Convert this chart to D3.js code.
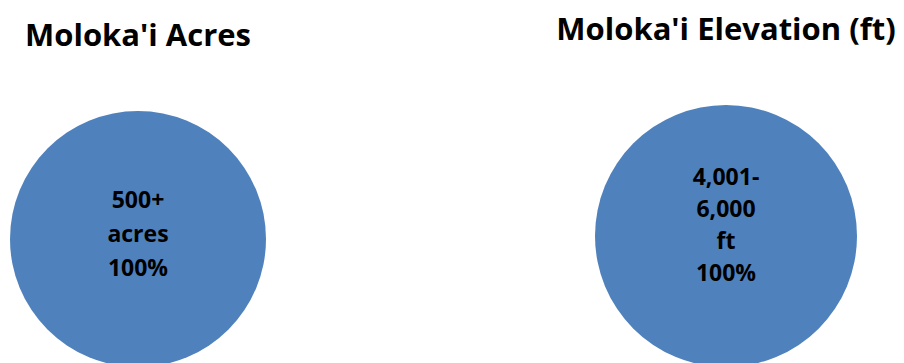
<!DOCTYPE html>
<html>
<head>
<meta charset="utf-8">
<script src="https://cdn.jsdelivr.net/npm/d3@7"></script>
<style>
  html, body { margin: 0; padding: 0; background: #ffffff; }
  svg { display: block; }
  text { font-family: "Open Sans", "Liberation Sans", sans-serif; font-weight: 700; fill: #000; }
</style>
</head>
<body>
<svg id="chart" width="904" height="363"></svg>
<script>
// Moloka'i acreage breakdown
const acresTitle = "Moloka'i Acres";
const acresCategories = [["500+", "acres"]];
const acresValues = [1];

// Moloka'i elevation breakdown
const elevationTitle = "Moloka'i Elevation (ft)";
const elevationCategories = [["4,001-", "6,000", "ft"]];
const elevationValues = [1];

const sliceColor = "#4f81bd";

const svg = d3.select("#chart");
const pct = d3.format(".0%");

function drawPie(cfg) {
  const g = svg.append("g").attr("transform", `translate(${cfg.cx},${cfg.cy})`);

  svg.append("text")
    .attr("x", cfg.cx)
    .attr("y", cfg.titleY)
    .attr("text-anchor", "middle")
    .style("font-size", cfg.titleSize + "px")
    .text(cfg.title);

  const data = cfg.categories.map((c, i) => ({ lines: c, value: cfg.values[i] }));
  const total = d3.sum(data, d => d.value);
  const arcs = d3.pie().sort(null).value(d => d.value)(data);
  const arc = d3.arc().innerRadius(0).outerRadius(cfg.r);

  g.selectAll("path.slice")
    .data(arcs)
    .join("path")
    .attr("class", "slice")
    .attr("d", arc)
    .attr("fill", sliceColor);

  const label = g.selectAll("text.label")
    .data(arcs)
    .join("text")
    .attr("class", "label")
    .attr("text-anchor", "middle")
    .style("font-size", cfg.labelSize + "px");

  label.each(function (d) {
    const lines = d.data.lines.concat([pct(d.value / total)]);
    const t = d3.select(this);
    const n = lines.length;
    lines.forEach((ln, i) => {
      t.append("tspan")
        .attr("x", 0)
        .attr("y", cfg.labelOffset + (i - (n - 1) / 2) * cfg.lineHeight)
        .text(ln);
    });
  });
}

drawPie({
  title: acresTitle, categories: acresCategories, values: acresValues,
  cx: 138, cy: 239, r: 128, titleY: 46, titleSize: 31,
  labelSize: 23, lineHeight: 34, labelOffset: 3
});

drawPie({
  title: elevationTitle, categories: elevationCategories, values: elevationValues,
  cx: 726, cy: 236, r: 131, titleY: 40, titleSize: 31,
  labelSize: 23, lineHeight: 32, labelOffset: -3
});
</script>
</body>
</html>
